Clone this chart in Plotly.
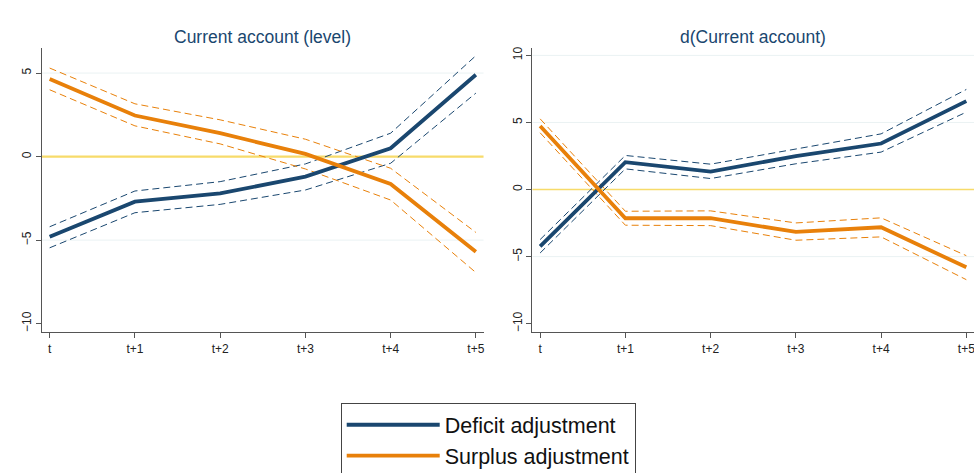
import plotly.graph_objects as go
from plotly.subplots import make_subplots

periods = ["t", "t+1", "t+2", "t+3", "t+4", "t+5"]
x_pos = [0, 1, 2, 3, 4, 5]

# Current account (level)
level_deficit = [-4.8, -2.7, -2.2, -1.2, 0.5, 4.9]
level_deficit_hi = [-4.2, -2.06, -1.5, -0.44, 1.4, 6.04]
level_deficit_lo = [-5.46, -3.36, -2.86, -2.0, -0.4, 3.8]
level_surplus = [4.64, 2.46, 1.4, 0.16, -1.64, -5.7]
level_surplus_hi = [5.3, 3.16, 2.2, 1.04, -0.7, -4.54]
level_surplus_lo = [4.0, 1.84, 0.76, -0.74, -2.6, -6.94]

# d(Current account)
diff_deficit = [-4.23, 2.04, 1.34, 2.49, 3.43, 6.59]
diff_deficit_hi = [-3.73, 2.54, 1.89, 3.03, 4.15, 7.46]
diff_deficit_lo = [-4.73, 1.54, 0.82, 1.92, 2.79, 5.77]
diff_surplus = [4.73, -2.14, -2.14, -3.16, -2.81, -5.8]
diff_surplus_hi = [5.27, -1.62, -1.59, -2.49, -2.11, -4.93]
diff_surplus_lo = [4.23, -2.66, -2.69, -3.78, -3.53, -6.72]

titles = ["Current account (level)", "d(Current account)"]
level_ticks = [-10, -5, 0, 5]
diff_ticks = [-10, -5, 0, 5, 10]

NAVY = "#1a476f"
ORANGE = "#e8800a"
ZERO = "#f7db6a"
GRID = "#eaf2f3"
AXIS = "#555555"
FONT = "Liberation Sans, Arial, sans-serif"

fig = make_subplots(rows=1, cols=2, horizontal_spacing=0.0525,
                    subplot_titles=titles)

panels = [
    (level_deficit, level_deficit_hi, level_deficit_lo,
     level_surplus, level_surplus_hi, level_surplus_lo, level_ticks),
    (diff_deficit, diff_deficit_hi, diff_deficit_lo,
     diff_surplus, diff_surplus_hi, diff_surplus_lo, diff_ticks),
]

for col, (d, dh, dl, s, sh, sl, ticks) in enumerate(panels, start=1):
    first = col == 1
    for band in (dh, dl):
        fig.add_trace(go.Scatter(x=x_pos, y=band, mode="lines", showlegend=False,
                                 line=dict(color=NAVY, width=1, dash="7px,4px"),
                                 hoverinfo="skip"), row=1, col=col)
    for band in (sh, sl):
        fig.add_trace(go.Scatter(x=x_pos, y=band, mode="lines", showlegend=False,
                                 line=dict(color=ORANGE, width=1, dash="7px,4px"),
                                 hoverinfo="skip"), row=1, col=col)
    fig.add_trace(go.Scatter(x=x_pos, y=d, mode="lines", name="Deficit adjustment",
                             showlegend=first, legendgroup="def",
                             line=dict(color=NAVY, width=3.8)), row=1, col=col)
    fig.add_trace(go.Scatter(x=x_pos, y=s, mode="lines", name="Surplus adjustment",
                             showlegend=first, legendgroup="sur",
                             line=dict(color=ORANGE, width=3.8)), row=1, col=col)
    # light grid at the labelled values, yellow reference line at zero
    for v in ticks:
        if v == 0:
            fig.add_hline(y=v, line=dict(color=ZERO, width=2.2 if first else 1.6),
                          layer="below", row=1, col=col)
        elif v != min(ticks):
            fig.add_hline(y=v, line=dict(color=GRID, width=1),
                          layer="below", row=1, col=col)

common_x = dict(range=[-0.09, 5.09], tickvals=x_pos, ticktext=periods,
                showgrid=False, zeroline=False, showline=True, linecolor=AXIS,
                linewidth=1.2, ticks="outside", ticklen=5, tickcolor=AXIS,
                ticklabeloverflow="allow",
                tickfont=dict(family=FONT, size=12, color="#222222"))
fig.update_xaxes(**common_x)

common_y = dict(showgrid=False, zeroline=False,
                showline=True, linecolor=AXIS, linewidth=1.2, ticks="outside",
                ticklen=5, tickcolor=AXIS, tickangle=-90,
                tickfont=dict(family=FONT, size=12, color="#222222"))
fig.update_yaxes(range=[-10.5, 6.5], tickvals=level_ticks, row=1, col=1, **common_y)
fig.update_yaxes(range=[-10.62, 10.55], tickvals=diff_ticks, row=1, col=2, **common_y)

for ann in fig.layout.annotations:
    ann.font = dict(family=FONT, size=17.5, color=NAVY)
    ann.yshift = -1

fig.update_layout(
    width=974, height=473,
    margin=dict(l=42, r=0, t=48, b=141, autoexpand=False),
    paper_bgcolor="white", plot_bgcolor="white",
    legend=dict(x=0.3205, y=-0.251, xanchor="left", yanchor="top",
                bordercolor="#444444", borderwidth=1, bgcolor="white",
                font=dict(family=FONT, size=21.5, color="#111111"),
                itemwidth=93, tracegroupgap=0),
)

fig.write_html("out.html")
